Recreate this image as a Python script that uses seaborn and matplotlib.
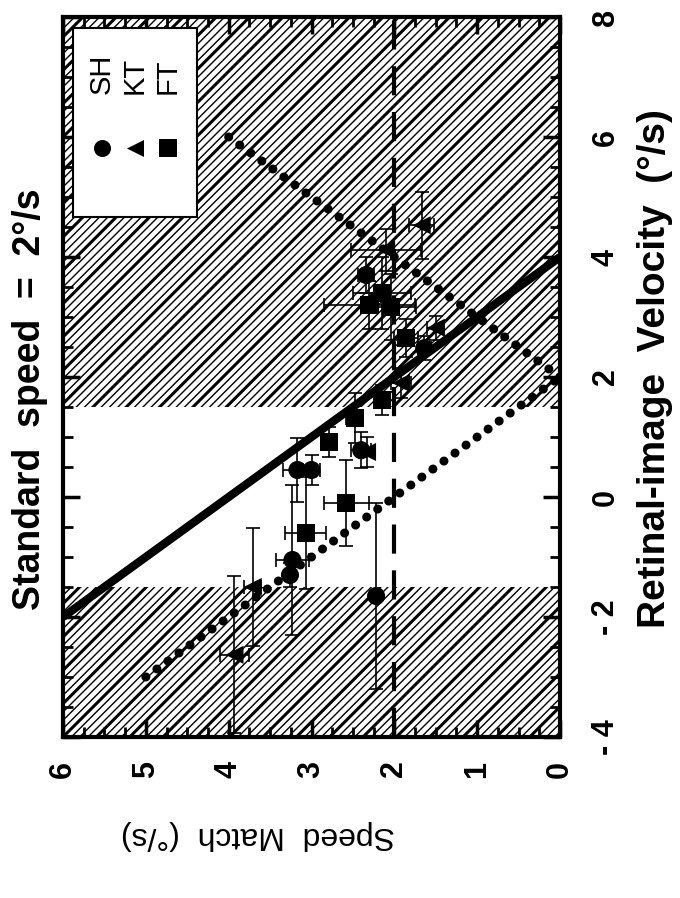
import matplotlib
matplotlib.use('Agg')
import matplotlib.pyplot as plt
import numpy as np
import pandas as pd
import seaborn as sns
from matplotlib.ticker import MultipleLocator
from matplotlib.patches import Rectangle

# ---------------- data (speed match in deg/s, retinal-image velocity in deg/s) ----------------
subjects = ["SH", "KT", "FT"]
subject_markers = ["o", "<", "s"]

sh_speed = [3.23, 3.26, 2.22, 3.17, 3.00, 2.40, 2.34, 1.64]
sh_vel = [-1.05, -1.30, -1.65, 0.45, 0.45, 0.78, 3.70, 2.48]
sh_speed_err = [0.20, 0.05, 0.05, 0.18, 0.10, 0.12, 0.10, 0.08]
sh_vel_err = [1.25, 0.20, 1.55, 0.53, 0.25, 0.30, 0.30, 0.20]

kt_speed = [3.93, 3.71, 2.33, 2.10, 1.67, 1.50, 1.92]
kt_vel = [-2.63, -1.50, 0.75, 4.12, 4.53, 2.82, 1.90]
kt_speed_err = [0.18, 0.10, 0.10, 0.42, 0.15, 0.10, 0.12]
kt_vel_err = [1.31, 0.98, 0.25, 0.35, 0.56, 0.20, 0.25]

ft_speed = [3.07, 2.58, 2.79, 2.48, 2.15, 2.30, 2.04, 2.15, 1.86]
ft_vel = [-0.60, -0.10, 0.92, 1.32, 1.62, 3.20, 3.17, 3.40, 2.65]
ft_speed_err = [0.25, 0.27, 0.10, 0.10, 0.10, 0.55, 0.30, 0.35, 0.15]
ft_vel_err = [0.93, 0.72, 0.25, 0.42, 0.25, 0.40, 0.55, 0.60, 0.32]

# model lines
solid_speed = [6, 0]
solid_vel = [-2, 4]
dot_upper_speed = [4, 0]
dot_upper_vel = [6, 2]
dot_lower_speed = [5, 0]
dot_lower_vel = [-3, 2]
standard_speed = [2, 2]
standard_vel = [-4, 8]

# hatched velocity bands
band_low = [-4, 1.5]
band_high = [-1.5, 8]

speed_ticks = [0, 1, 2, 3, 4, 5, 6]
speed_tick_labels = ["0", "1", "2", "3", "4", "5", "6"]
vel_ticks = [-4, -2, 0, 2, 4, 6, 8]
vel_tick_labels = ["- 4", "- 2", "0", "2", "4", "6", "8"]

# ---------------- build table ----------------
df = pd.concat([
    pd.DataFrame({"speed": sh_speed, "vel": sh_vel, "serr": sh_speed_err, "verr": sh_vel_err, "subject": "SH"}),
    pd.DataFrame({"speed": kt_speed, "vel": kt_vel, "serr": kt_speed_err, "verr": kt_vel_err, "subject": "KT"}),
    pd.DataFrame({"speed": ft_speed, "vel": ft_vel, "serr": ft_speed_err, "verr": ft_vel_err, "subject": "FT"}),
], ignore_index=True)

sns.set_style("ticks")
plt.rcParams["font.family"] = ["Liberation Sans", "DejaVu Sans"]
plt.rcParams["hatch.color"] = "black"
for key in ["text.color", "axes.labelcolor", "xtick.color", "ytick.color",
            "xtick.labelcolor", "ytick.labelcolor", "axes.edgecolor"]:
    plt.rcParams[key] = "black"

fig = plt.figure(figsize=(6.8, 8.98), dpi=100)
ax = fig.add_axes([63 / 680, 1 - 737 / 898, 497 / 680, 720 / 898])
ax.set_xlim(6, 0)
ax.set_ylim(-4, 8)

for lo, hi in zip(band_low, band_high):
    plt.rcParams["hatch.linewidth"] = 1.0
    ax.axhspan(lo, hi, facecolor="white", edgecolor="black", hatch="////", linewidth=0, zorder=0)
    plt.rcParams["hatch.linewidth"] = 2.2
    ax.axhspan(lo, hi, facecolor="none", edgecolor="black", hatch="/", linewidth=0, zorder=0.5)

ax.plot(standard_speed, standard_vel, color="black", lw=3.0, linestyle=(0, (7, 4)), zorder=2)
ax.plot(solid_speed, solid_vel, color="black", lw=6.0, solid_capstyle="butt", zorder=3)
for xs, ys in [(dot_upper_speed, dot_upper_vel), (dot_lower_speed, dot_lower_vel)]:
    ax.plot(xs, ys, color="black", lw=6.5, linestyle=(0, (0.01, 1.5)),
            dash_capstyle="round", zorder=3)

ax.errorbar(df["speed"], df["vel"], xerr=df["serr"], yerr=df["verr"], fmt="none",
            ecolor="black", elinewidth=1.2, capsize=5, capthick=1.2, zorder=4)
sns.scatterplot(data=df, x="speed", y="vel", style="subject",
                markers=dict(zip(subjects, subject_markers)), color="black",
                s=170, linewidth=0, legend=False, ax=ax, zorder=5)

# ---------------- axes styling ----------------
ax.set_xlabel("")
ax.set_ylabel("")
ax.set_xticks(speed_ticks, labels=speed_tick_labels)
ax.set_yticks(vel_ticks, labels=vel_tick_labels)
ax.xaxis.set_minor_locator(MultipleLocator(0.25))
ax.yaxis.set_minor_locator(MultipleLocator(0.5))
ax.tick_params(which="both", direction="in", left=True, right=True, top=True, bottom=True,
               labelleft=False, labelright=True, labelbottom=True, labeltop=False,
               color="black", labelcolor="black")
ax.tick_params(which="major", length=12, width=2.5)
ax.tick_params(which="minor", length=7, width=2)
ax.tick_params(axis="x", labelrotation=90, pad=17, labelsize=22)
ax.tick_params(axis="y", labelrotation=90, pad=22, labelsize=22)
for lab in ax.get_xticklabels() + ax.get_yticklabels():
    lab.set_fontweight("bold")
for lab in ax.get_yticklabels():
    lab.set_va("center")
for sp in ax.spines.values():
    sp.set_visible(True)
    sp.set_linewidth(3)
    sp.set_color("black")

# ---------------- legend (rotated, drawn by hand) ----------------
ax.add_patch(Rectangle((0.02, 0.722), 0.25, 0.263, transform=ax.transAxes,
                       facecolor="white", edgecolor="black", lw=1.5, zorder=6))
leg_x = [0.078, 0.145, 0.211]
for xk, mk, name in zip(leg_x, subject_markers, subjects):
    ax.scatter([xk], [0.818], marker=mk, s=150, color="black", linewidths=0,
               transform=ax.transAxes, zorder=7, clip_on=False)
    ax.text(xk, 0.893, name, rotation=90, ha="center", va="bottom", fontsize=21,
            color="black", transform=ax.transAxes, zorder=7)

# ---------------- figure texts (figure is rotated 90 deg) ----------------
fig.text(30 / 680, 0.555, "Standard  speed  =  2°/s", rotation=90, ha="center", va="center",
         fontsize=27, fontweight="bold", color="black")
fig.text(655 / 680, 0.59, "Retinal-image  Velocity  (°/s)", rotation=90, ha="center", va="center",
         fontsize=28, fontweight="bold", color="black")
fig.text(258 / 680, 0.07, "Speed  Match  (°/s)", rotation=180, ha="center", va="center",
         fontsize=23, color="black")

fig.savefig("out.png", dpi=100)
